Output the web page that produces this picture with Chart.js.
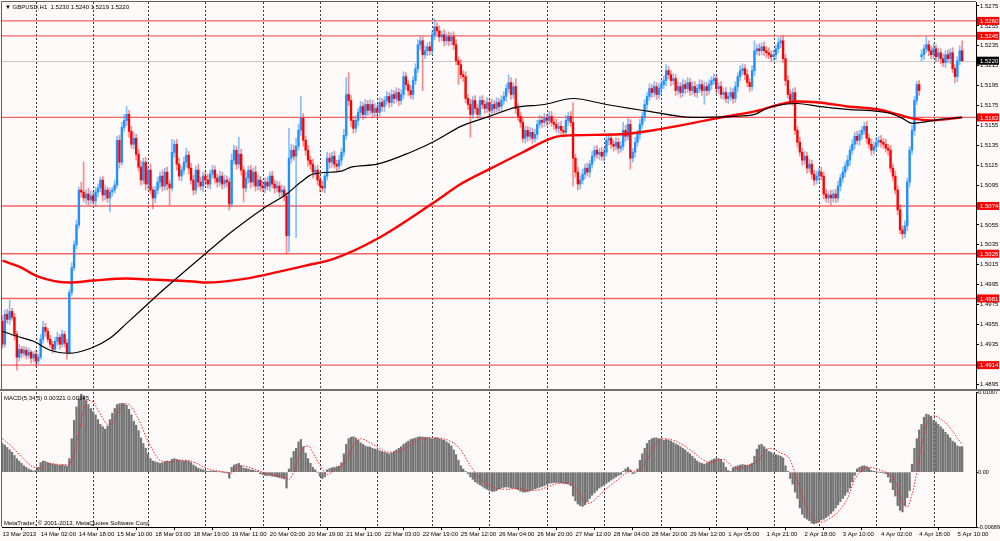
<!DOCTYPE html>
<html>
<head>
<meta charset="utf-8">
<title>GBPUSD,H1</title>
<script src="https://cdn.jsdelivr.net/npm/chart.js@4.4.1/dist/chart.umd.min.js"></script>
<style>
html, body { margin: 0; padding: 0; background: #fffafa; overflow: hidden; }
#wrap { position: relative; width: 1000px; height: 541px; }
canvas { position: absolute; left: 0; }
#price { top: 0; }
#macd { top: 390px; }
</style>
</head>
<body>
<div id="wrap">
  <canvas id="price" width="1000" height="390"></canvas>
  <canvas id="macd" width="1000" height="151"></canvas>
</div>
<script>
// ---- data ----
// hourly closes in pips (4935 = 1.4935), bar 0 = 13 Mar 10:00
var firstOpen = 4958;
var closePips = [
  4935,4965,4960,4968,4962,4945,4922,4930,4926,4929,
  4924,4927,4921,4925,4918,4922,4940,4952,4948,4940,
  4935,4930,4938,4942,4935,4945,4936,4927,4987,5012,
  5035,5055,5090,5088,5082,5086,5080,5084,5079,5088,
  5092,5100,5085,5090,5082,5088,5090,5095,5140,5118,
  5153,5160,5166,5149,5136,5142,5126,5113,5100,5118,
  5096,5110,5090,5082,5090,5098,5104,5094,5108,5096,
  5092,5128,5136,5116,5104,5110,5118,5125,5112,5100,
  5090,5110,5098,5094,5104,5100,5096,5106,5110,5102,
  5098,5104,5096,5100,5098,5076,5120,5130,5116,5126,
  5110,5092,5102,5110,5098,5108,5094,5100,5094,5092,
  5098,5094,5104,5096,5092,5094,5088,5090,5084,5044,
  5122,5130,5124,5134,5150,5162,5140,5130,5120,5116,
  5108,5110,5100,5094,5092,5104,5122,5118,5124,5116,
  5114,5120,5128,5145,5186,5180,5160,5152,5160,5168,
  5174,5166,5176,5170,5176,5168,5172,5168,5178,5174,
  5180,5184,5178,5186,5182,5188,5180,5186,5204,5196,
  5190,5186,5200,5212,5236,5240,5226,5230,5234,5230,
  5246,5254,5250,5244,5246,5240,5244,5240,5244,5236,
  5220,5216,5206,5204,5182,5176,5166,5180,5172,5166,
  5180,5176,5172,5178,5170,5176,5172,5178,5174,5180,
  5184,5192,5198,5186,5194,5172,5164,5158,5142,5150,
  5144,5148,5142,5146,5156,5160,5158,5162,5160,5164,
  5158,5156,5152,5154,5150,5148,5160,5164,5158,5122,
  5108,5096,5100,5106,5112,5108,5116,5124,5130,5126,
  5128,5124,5128,5140,5142,5136,5134,5138,5132,5134,
  5150,5144,5156,5122,5128,5138,5146,5156,5164,5176,
  5184,5192,5188,5194,5186,5192,5196,5200,5210,5206,
  5200,5202,5190,5194,5188,5196,5192,5198,5190,5194,
  5188,5192,5196,5190,5194,5190,5196,5200,5202,5192,
  5194,5186,5188,5182,5184,5188,5182,5194,5204,5210,
  5212,5206,5198,5194,5210,5230,5232,5230,5234,5230,
  5228,5226,5224,5226,5232,5238,5240,5222,5200,5186,
  5180,5188,5150,5138,5128,5120,5124,5112,5116,5106,
  5100,5104,5108,5104,5086,5082,5085,5082,5086,5082,
  5094,5102,5108,5114,5120,5130,5136,5144,5140,5146,
  5150,5154,5142,5136,5130,5134,5138,5140,5138,5136,
  5132,5130,5112,5104,5090,5070,5050,5046,5054,5098,
  5130,5150,5180,5196,5190,5226,5232,5236,5230,5226,
  5232,5224,5228,5222,5218,5226,5222,5228,5212,5204,
  5220,5230,5220
];
// opens that differ from the previous close (price gaps), [bar, pips]
var gapOpens = [[385, 5224]];
// wick lengths above / below the body, in pips
var upWick = [
  6,4,5,11,3,4,3,5,3,4, 3,4,2,3,4,3,5,6,4,3, 4,3,4,5,3,4,3,4,3,5, 4,5,3,8,30,4,6,5,4,5,
  4,3,4,5,3,4,3,5,4,5, 5,6,8,4,5,6,4,5,6,4, 5,4,6,3,4,5,4,6,4,5, 4,13,4,5,6,4,5,7,4,5,
  5,4,6,5,4,5,6,4,5,4, 4,5,4,5,4,4,6,5,4,17, 5,4,6,4,5,4,6,5,4,5, 4,5,4,5,4,5,4,5,4,3,
  30,6,5,8,6,22,5,4,5,4, 5,4,5,4,5,4,6,5,4,5, 4,5,4,6,17,22,5,4,5,4, 5,4,5,4,5,4,5,4,5,4,
  4,5,4,5,4,5,4,5,5,4, 4,5,4,5,5,4,4,5,4,5, 4,8,4,5,4,5,4,5,4,5, 5,4,5,4,5,4,5,4,5,4,
  4,5,4,5,4,5,4,5,4,5, 5,4,8,5,4,8,5,4,5,4, 4,5,4,5,4,5,4,5,4,5, 5,4,5,4,5,4,5,4,5,20,
  4,5,4,5,4,5,4,5,4,5, 4,5,4,5,4,5,4,5,4,5, 8,5,6,5,4,5,4,5,4,5, 4,5,4,5,4,5,4,5,6,4,
  4,5,4,5,4,5,4,5,4,5, 5,4,5,4,5,4,5,4,5,4, 4,5,4,5,4,5,4,5,4,5, 5,4,5,4,5,10,4,5,4,5,
  4,5,4,5,4,5,4,5,4,5, 5,4,5,4,5,4,5,4,5,4, 4,5,4,5,4,5,4,5,4,5, 5,4,5,4,5,4,5,4,5,4,
  4,4,5,4,5,4,5,4,5,4, 5,4,5,4,5,4,5,4,5,4, 4,5,4,3,4,5,4,8,4,5, 5,4,5,4,5,4,5,4,5,4,
  4,5,10
];
var downWick = [
  4,3,4,5,3,6,13,4,5,3, 4,3,5,4,5,3,2,4,5,3, 3,4,3,4,5,3,4,7,2,3, 3,4,3,5,4,6,5,4,3,5,
  5,4,6,5,4,14,4,3,3,6, 3,4,5,6,4,5,6,4,5,4, 6,5,4,11,5,4,6,5,4,6, 17,3,5,6,4,5,4,5,6,4,
  5,4,5,4,6,5,4,5,4,5, 5,4,5,4,5,6,3,4,5,4, 5,14,4,5,6,4,5,4,5,4, 5,4,5,4,5,4,5,4,5,18,
  16,5,4,82,4,5,6,5,6,5, 6,4,5,6,4,5,4,6,5,4, 5,4,5,4,4,5,6,5,4,5, 4,5,4,5,4,5,4,5,4,5,
  5,4,5,4,5,4,5,4,4,5, 5,4,5,4,4,5,36,4,5,4, 4,5,4,5,4,5,4,5,4,5, 4,20,4,5,4,5,23,4,5,4,
  5,4,5,4,5,4,5,4,5,4, 4,5,4,5,4,5,4,5,4,5, 5,4,5,4,5,4,5,4,5,4, 4,5,4,5,4,5,4,5,4,28,
  5,6,5,4,5,4,5,4,5,4, 5,4,5,4,5,4,5,4,5,4, 4,5,4,11,4,5,4,5,4,5, 5,4,5,4,5,4,5,4,5,4,
  5,4,5,4,5,4,5,4,5,4, 4,5,4,5,14,5,4,5,4,5, 5,4,5,4,5,4,5,4,5,4, 4,5,4,5,4,5,4,5,4,5,
  5,4,5,4,5,4,5,4,5,4, 4,5,4,5,4,5,4,5,4,5, 5,4,5,4,5,4,5,7,4,5, 4,5,4,5,4,5,4,5,4,5,
  5,4,5,4,5,4,5,4,5,4, 4,5,4,5,4,5,4,5,4,5, 5,4,5,4,5,4,5,4,5,4, 4,5,4,5,4,5,4,5,4,6,
  5,4,1
];
// moving averages, [bar, pips]
var maBlack = [
  [0,4948],[6,4943],[13,4938],[20,4929],[28,4926],[37,4931],[45,4941],[52,4956],[62,4978],
  [68,4991],[85,5026],[96,5048],[109,5071],[119,5086],[125,5098],[130,5106],[142,5109],
  [146,5113],[157,5116],[171,5128],[181,5139],[192,5154],[204,5164],[215,5173],[227,5176],
  [239,5182],[253,5176],[271,5169],[289,5163],[306,5164],[315,5166],[321,5173],[333,5177],
  [342,5174],[354,5171],[367,5169],[372,5167],[377,5162],[381,5157],[385,5158],[393,5161],[402,5163]
];
var maRed = [
  [0,5019],[7,5013],[15,5003],[28,4997],[38,4999],[52,5001],[62,5000],[80,4998],[85,4997],
  [102,5001],[116,5008],[127,5014],[139,5021],[157,5041],[181,5078],[192,5096],[204,5111],
  [218,5128],[231,5143],[239,5145],[259,5146],[275,5151],[299,5162],[315,5169],[333,5179],
  [342,5178],[354,5174],[367,5171],[375,5166],[381,5162],[389,5160],[402,5163]
];
// MACD(5,34,5) histogram, in 0.00001
var macdHist = [
  360,340,310,280,250,210,170,140,110,80,
  60,40,25,15,20,60,120,140,135,120,
  110,100,95,90,85,90,85,75,170,420,
  650,820,920,980,960,900,850,800,760,720,
  660,600,570,540,580,660,740,800,850,860,
  865,860,840,790,720,640,590,520,430,360,
  300,230,170,140,130,120,110,120,130,140,
  135,160,170,160,150,145,140,145,135,120,
  90,70,50,40,30,20,10,12,15,10,
  5,5,0,-5,-10,-76,60,90,100,110,
  80,50,45,40,30,25,15,10,-20,-30,
  -40,-45,-40,-50,-55,-60,-70,-75,-85,-200,
  40,180,260,300,380,410,320,240,170,110,
  60,30,0,-50,-80,-60,30,45,55,60,
  70,75,120,230,350,420,440,445,430,400,
  370,350,330,320,315,300,290,280,270,260,
  250,240,230,240,260,280,300,320,350,370,
  390,410,420,430,440,445,440,435,430,425,
  420,425,430,420,410,400,380,360,330,280,
  220,150,80,40,10,-20,-60,-90,-120,-140,
  -160,-180,-200,-215,-230,-240,-240,-230,-210,-200,
  -190,-185,-190,-200,-200,-210,-220,-240,-250,-250,
  -245,-235,-220,-210,-200,-190,-180,-170,-150,-140,
  -135,-130,-130,-130,-135,-140,-145,-150,-170,-300,
  -360,-400,-420,-430,-410,-370,-330,-290,-260,-230,
  -200,-180,-160,-140,-120,-100,-80,-60,-40,-30,
  10,40,60,30,-20,-10,40,150,230,300,
  360,400,420,430,430,420,415,400,410,400,
  390,370,355,340,320,300,280,250,230,200,
  170,140,120,110,100,110,130,150,165,170,
  170,160,120,60,20,10,50,70,80,90,
  95,90,85,90,110,200,290,340,350,320,
  290,260,250,230,220,210,200,180,80,10,
  -80,-150,-250,-330,-450,-530,-570,-590,-610,-640,
  -650,-640,-620,-600,-590,-570,-550,-520,-490,-450,
  -410,-370,-330,-290,-250,-200,-120,-40,40,60,
  75,80,70,50,20,10,5,0,-5,-10,
  -20,-60,-130,-220,-300,-420,-480,-500,-420,-320,
  -230,100,300,420,530,600,690,730,720,700,
  650,630,600,570,540,500,470,430,390,370,
  330,320,321
];
// signal line, [bar, 0.00001]
var macdSignal = [
  [0,420],[4,320],[8,190],[12,80],[16,50],[20,110],[24,95],[28,100],[30,250],[32,500],
  [34,780],[36,900],[38,880],[40,780],[42,680],[44,600],[46,620],[48,720],[50,820],[52,860],
  [54,820],[56,720],[58,600],[60,450],[62,330],[64,220],[66,150],[70,130],[74,150],[78,145],
  [82,100],[86,40],[90,15],[94,0],[96,-10],[98,40],[100,80],[102,70],[106,35],[110,-10],
  [114,-40],[118,-60],[120,-90],[122,0],[124,180],[126,310],[128,330],[130,250],[132,140],
  [134,40],[136,-30],[138,0],[140,40],[142,80],[144,140],[146,270],[148,380],[150,420],
  [154,370],[158,300],[162,250],[166,260],[170,330],[174,400],[178,435],[182,430],[186,410],
  [190,340],[192,280],[194,180],[196,80],[198,-10],[200,-80],[204,-170],[208,-210],[212,-215],
  [216,-200],[220,-230],[224,-225],[228,-190],[232,-145],[236,-135],[238,-145],[240,-200],
  [242,-290],[244,-370],[246,-390],[248,-350],[250,-290],[254,-180],[258,-90],[262,0],
  [266,20],[268,60],[270,160],[272,270],[274,370],[276,420],[280,410],[284,360],[288,280],
  [292,190],[296,120],[300,150],[302,160],[304,120],[306,60],[308,50],[312,85],[316,130],
  [318,200],[320,280],[322,300],[326,240],[328,215],[330,150],[332,-20],[334,-200],[336,-380],
  [338,-520],[340,-600],[342,-630],[344,-620],[346,-590],[350,-500],[354,-330],[357,-90],
  [360,20],[362,60],[364,60],[366,40],[370,0],[372,-30],[374,-120],[376,-300],[378,-420],
  [379,-440],[381,-280],[383,0],[385,340],[387,590],[390,710],[392,690],[396,590],[399,470],[402,345]
];

var levels = [1.5260, 1.5245, 1.5163, 1.5074, 1.5026, 1.4981, 1.4914];
var bidPrice = 1.5220;
var priceTicks = [1.5275,1.5255,1.5235,1.5215,1.5195,1.5175,1.5155,1.5135,1.5115,1.5095,
  1.5075,1.5055,1.5035,1.5015,1.4995,1.4975,1.4955,1.4935,1.4915,1.4895];
var dayStarts = [14,38,61,85,109,133,157,180,204,228,252,276,299,323,342,366,390];
var labelIdx = [0,16,32,48,64,80,96,112,128,144,160,176,192,208,224,240,256,272,288,304,320,336,352,368,384,400];
var timeLabels = ['13 Mar 2013','14 Mar 02:00','14 Mar 18:00','15 Mar 10:00','18 Mar 03:00',
  '18 Mar 19:00','19 Mar 11:00','20 Mar 03:00','20 Mar 19:00','21 Mar 11:00','22 Mar 03:00',
  '22 Mar 19:00','25 Mar 12:00','26 Mar 04:00','26 Mar 20:00','27 Mar 12:00','28 Mar 04:00',
  '28 Mar 20:00','29 Mar 12:00','1 Apr 05:00','1 Apr 21:00','2 Apr 18:00','3 Apr 10:00',
  '4 Apr 02:00','4 Apr 18:00','5 Apr 10:00'];

// ---- build candles ----
function px(p) { return 1 + p / 10000; }
var gapMap = {};
gapOpens.forEach(function (g) { gapMap[g[0]] = g[1]; });
var wicks = [], bodies = [], bodyCol = [], wickCol = [];
var prev = firstOpen;
for (var i = 0; i < closePips.length; i++) {
  var o = (i in gapMap) ? gapMap[i] : prev, c = closePips[i];
  var hi = Math.max(o, c) + upWick[i];
  var lo = Math.min(o, c) - downWick[i];
  wicks.push({ x: i, y: [px(lo), px(hi)] });
  bodies.push({ x: i, y: [px(o), px(c)] });
  if (c >= o) {
    bodyCol.push('#1e90ff');
    wickCol.push('rgba(30,144,255,0.55)');
  } else {
    bodyCol.push('#ff0000');
    wickCol.push('rgba(255,0,0,0.45)');
  }
  prev = c;
}

Chart.defaults.font.family = "'Liberation Sans', Arial, sans-serif";
Chart.defaults.font.size = 6;
Chart.defaults.color = '#000';

var X_MIN = -0.2, X_MAX = 407.8;
var BG = '#fffafa';

function noPad(scale) {
  scale.paddingTop = 0; scale.paddingBottom = 0;
  scale.paddingLeft = 0; scale.paddingRight = 0;
}

function drawDays(chart) {
  var ctx = chart.ctx, a = chart.chartArea, x = chart.scales.x;
  ctx.save();
  ctx.strokeStyle = '#3a3a3a';
  ctx.lineWidth = 1;
  ctx.setLineDash([2, 2]);
  dayStarts.forEach(function (d) {
    var xp = Math.round(x.getPixelForValue(d)) + 0.5;
    ctx.beginPath();
    ctx.moveTo(xp, a.top);
    ctx.lineTo(xp, a.bottom);
    ctx.stroke();
  });
  ctx.restore();
}

var priceDecor = {
  id: 'priceDecor',
  beforeDraw: function (chart) {
    var ctx = chart.ctx;
    ctx.save();
    ctx.fillStyle = BG;
    ctx.fillRect(0, 0, chart.width, chart.height);
    ctx.restore();
  },
  beforeDatasetsDraw: function (chart) {
    var ctx = chart.ctx, a = chart.chartArea, y = chart.scales.y;
    drawDays(chart);
    ctx.save();
    var yb = Math.round(y.getPixelForValue(bidPrice)) + 0.5;
    ctx.strokeStyle = '#c8c8c8';
    ctx.lineWidth = 1;
    ctx.beginPath(); ctx.moveTo(a.left, yb); ctx.lineTo(a.right, yb); ctx.stroke();
    ctx.strokeStyle = 'rgba(245,70,70,0.85)';
    ctx.lineWidth = 1.4;
    levels.forEach(function (v) {
      var yp = y.getPixelForValue(v);
      ctx.beginPath(); ctx.moveTo(a.left, yp); ctx.lineTo(a.right, yp); ctx.stroke();
    });
    ctx.restore();
  },
  afterDraw: function (chart) {
    var ctx = chart.ctx, a = chart.chartArea, y = chart.scales.y;
    ctx.save();
    // frame
    ctx.strokeStyle = '#606060';
    ctx.lineWidth = 1;
    ctx.beginPath();
    ctx.moveTo(a.left - 0.5, a.top - 0.5);
    ctx.lineTo(a.right, a.top - 0.5);
    ctx.moveTo(a.left - 0.5, a.top - 0.5);
    ctx.lineTo(a.left - 0.5, a.bottom);
    ctx.stroke();
    ctx.fillStyle = '#707070';
    ctx.fillRect(0, a.bottom, chart.width, 2);
    // price boxes
    ctx.font = "6px 'Liberation Sans', Arial, sans-serif";
    ctx.textBaseline = 'middle';
    ctx.textAlign = 'left';
    levels.forEach(function (v) {
      var yp = y.getPixelForValue(v);
      ctx.fillStyle = '#ff0000';
      ctx.fillRect(a.right + 1, yp - 4, 22, 8);
      ctx.fillStyle = '#ffffff';
      ctx.fillText(v.toFixed(4), a.right + 4, yp + 0.5);
    });
    var yb = y.getPixelForValue(bidPrice);
    ctx.fillStyle = '#000000';
    ctx.fillRect(a.right + 1, yb - 4, 22, 8);
    ctx.fillStyle = '#ffffff';
    ctx.fillText(bidPrice.toFixed(4), a.right + 4, yb + 0.5);
    // title
    ctx.fillStyle = '#000';
    ctx.fillText('\u25BC GBPUSD,H1  1.5230 1.5240 1.5219 1.5220', 5, 7);
    ctx.restore();
  }
};

var macdDecor = {
  id: 'macdDecor',
  beforeDraw: priceDecor.beforeDraw,
  beforeDatasetsDraw: function (chart) { drawDays(chart); },
  afterDraw: function (chart) {
    var ctx = chart.ctx, a = chart.chartArea;
    ctx.save();
    ctx.fillStyle = '#707070';
    ctx.fillRect(0, 0, chart.width, 1);
    ctx.strokeStyle = '#606060';
    ctx.lineWidth = 1;
    ctx.beginPath();
    ctx.moveTo(a.left - 0.5, a.top);
    ctx.lineTo(a.left - 0.5, a.bottom);
    ctx.stroke();
    ctx.font = "6px 'Liberation Sans', Arial, sans-serif";
    ctx.textBaseline = 'middle';
    ctx.textAlign = 'left';
    ctx.fillStyle = '#000';
    ctx.fillText('MACD(5,34,5) 0.00321 0.00345', 4, 8);
    ctx.fillText('MetaTrader, \u00A9 2001-2013, MetaQuotes Software Corp.', 4, a.bottom - 4);
    ctx.restore();
  }
};

function line(points, scaleDiv, base) {
  return points.map(function (p) { return { x: p[0], y: base + p[1] / scaleDiv }; });
}

new Chart(document.getElementById('price'), {
  type: 'bar',
  data: {
    datasets: [
      { data: wicks, backgroundColor: wickCol, barThickness: 1, grouped: false, borderWidth: 0, order: 4 },
      { data: bodies, backgroundColor: bodyCol, barThickness: 1.7, grouped: false, borderWidth: 0, order: 3 },
      { type: 'line', data: line(maRed, 10000, 1), borderColor: '#ff0000', borderWidth: 2.4,
        pointRadius: 0, cubicInterpolationMode: 'monotone', order: 2 },
      { type: 'line', data: line(maBlack, 10000, 1), borderColor: '#000000', borderWidth: 1.2,
        pointRadius: 0, cubicInterpolationMode: 'monotone', order: 1 }
    ]
  },
  options: {
    responsive: false,
    animation: false,
    events: [],
    layout: { padding: { left: 2, top: 2, right: 0, bottom: 1 } },
    plugins: { legend: { display: false }, tooltip: { enabled: false } },
    scales: {
      x: { type: 'linear', min: X_MIN, max: X_MAX, offset: false, display: false },
      y: {
        position: 'right', min: 1.4890, max: 1.5279,
        afterBuildTicks: function (s) { s.ticks = priceTicks.map(function (v) { return { value: v }; }); },
        afterFit: function (s) { s.width = 24; noPad(s); },
        ticks: { padding: 1, callback: function (v) { return v.toFixed(4); } },
        grid: { drawOnChartArea: false, drawTicks: true, tickLength: 3, color: '#000' },
        border: { display: true, color: '#000' }
      }
    }
  },
  plugins: [priceDecor]
});

new Chart(document.getElementById('macd'), {
  type: 'bar',
  data: {
    datasets: [
      { data: macdHist.map(function (v, k) { return { x: k, y: v / 100000 }; }),
        backgroundColor: '#747474', barThickness: 1.6, borderWidth: 0, grouped: false, order: 2 },
      { type: 'line', data: line(macdSignal, 100000, 0), borderColor: '#ff2020', borderWidth: 1,
        borderDash: [1.5, 1.5], pointRadius: 0, cubicInterpolationMode: 'monotone', order: 1 }
    ]
  },
  options: {
    responsive: false,
    animation: false,
    events: [],
    layout: { padding: { left: 2, top: 2, right: 0, bottom: 0 } },
    plugins: { legend: { display: false }, tooltip: { enabled: false } },
    scales: {
      x: {
        type: 'linear', min: X_MIN, max: X_MAX, offset: false,
        afterBuildTicks: function (s) { s.ticks = labelIdx.map(function (v) { return { value: v }; }); },
        afterFit: function (s) { s.height = 14; noPad(s); },
        ticks: {
          align: 'start', autoSkip: false, maxRotation: 0, minRotation: 0, padding: 1,
          callback: function (v) { var k = labelIdx.indexOf(v); return k < 0 ? '' : timeLabels[k]; }
        },
        grid: { drawOnChartArea: false, drawTicks: true, tickLength: 3, color: '#000' },
        border: { display: true, color: '#000' }
      },
      y: {
        position: 'right', min: -0.00689, max: 0.01007,
        afterBuildTicks: function (s) { s.ticks = [{ value: 0.01007 }, { value: 0 }, { value: -0.00689 }]; },
        afterFit: function (s) { s.width = 24; noPad(s); },
        ticks: { padding: 0, font: { size: 5.6 }, callback: function (v) { return v === 0 ? '0.00' : v.toFixed(5); } },
        grid: { drawOnChartArea: false, drawTicks: true, tickLength: 2, color: '#000' },
        border: { display: true, color: '#000' }
      }
    }
  },
  plugins: [macdDecor]
});
</script>
</body>
</html>
